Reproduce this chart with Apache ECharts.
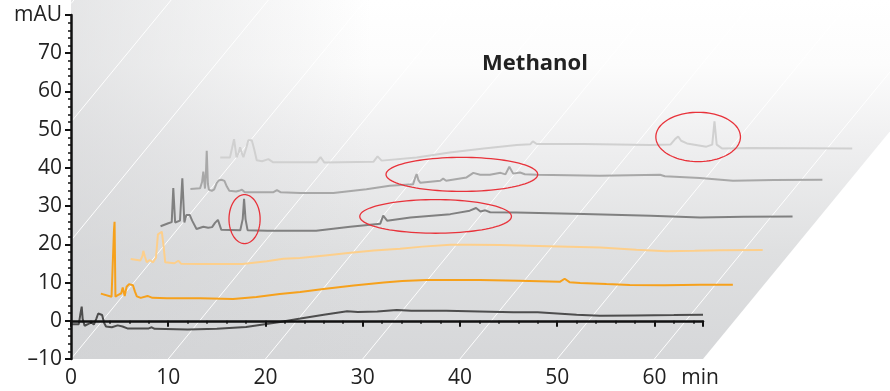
<!DOCTYPE html>
<html><head><meta charset="utf-8">
<script src="https://cdn.jsdelivr.net/npm/echarts/dist/echarts.min.js"></script>
<style>html,body{margin:0;padding:0;background:#fff}#c{width:890px;height:391px}</style>
</head><body><div id="c"></div>
<script>
// ---- data (retention time in min, absorbance in mAU, each run relative to its own origin) ----
const chartTitle = 'Methanol';
const xName = 'min';
const yName = 'mAU';
const xTickValues = [0, 10, 20, 30, 40, 50, 60];
const yTickValues = [-10, 0, 10, 20, 30, 40, 50, 60, 70];

const run1 = [[0,-0.9],[0.8,-0.9],[0.95,1.5],[1.1,3.7],[1.2,0.5],[1.4,-1.3],[1.8,-0.8],[2.1,-0.4],[2.35,-1.0],[2.6,0.5],[2.8,1.9],[3.0,2.0],[3.2,1.5],[3.4,-0.5],[3.6,-1.5],[4.2,-1.7],[4.8,-1.2],[5.0,-0.8],[5.3,-1.5],[5.8,-2.0],[8.0,-2.0],[8.3,-1.7],[8.6,-2.1],[12,-2.3],[15,-2.1],[18,-1.6],[21.5,-0.3],[23.6,0.6],[26,1.6],[28.4,2.5],[29.5,2.3],[31.5,2.4],[33.5,2.8],[35,2.6],[38.6,2.6],[42,2.4],[45.5,2.2],[48,2.2],[50,1.9],[52,1.6],[54.4,1.3],[58,1.4],[62,1.5],[65,1.6]];
const run2 = [[0,-1.6],[1.1,-2.4],[1.35,15],[1.41,17.2],[1.5,-2.4],[1.8,-1.9],[2.1,-1.5],[2.25,0],[2.45,-2.2],[2.65,0.2],[2.9,0.9],[3.1,0.7],[3.3,0.6],[3.5,-1.0],[3.7,-2.3],[4.1,-2.7],[4.8,-2.2],[5.0,-1.8],[5.3,-2.7],[6.8,-2.8],[10.2,-2.8],[13.6,-3.0],[16,-2.5],[18.4,-1.7],[20.5,-1.2],[22.9,-0.4],[26,0.5],[29.1,1.3],[31,1.7],[33.5,2.0],[36,2.0],[39,1.95],[43,1.8],[47.2,1.5],[47.7,2.3],[48.2,1.4],[49.3,1.2],[52,0.9],[54.4,0.65],[58,0.6],[61.6,0.7],[65,0.7]];
const run3 = [[0,-1.25],[1.0,-1.6],[1.2,-0.5],[1.3,0.9],[1.45,-0.5],[1.65,-2.1],[1.95,-1.5],[2.3,-2.1],[2.6,-0.9],[2.8,5.2],[3.0,5.0],[3.2,5.9],[3.38,2.2],[3.55,-2.1],[4.5,-2.35],[4.9,-1.7],[5.2,-2.5],[7.1,-2.56],[11.5,-2.56],[14,-1.8],[15.7,-1.2],[17.4,-1.0],[20,-0.3],[22.6,0.4],[25,1.0],[27.7,1.45],[30,2.0],[32.9,2.5],[35,2.5],[38,2.4],[43,2.1],[48.3,1.8],[52,1.2],[55.1,0.8],[58,0.9],[60.6,1.05],[65,1.1]];
const run4 = [[0,-1.36],[0.8,-0.6],[1.15,-0.3],[1.31,8.6],[1.5,-0.4],[2.0,0.1],[2.24,11.2],[2.45,-0.4],[2.65,1.6],[2.8,1.8],[3.0,1.6],[3.25,0.1],[3.7,-2.1],[4.4,-1.5],[4.9,-1.75],[5.3,-1.6],[5.6,-0.5],[5.9,0.3],[6.25,-2.3],[8.2,-2.4],[8.45,0.5],[8.59,5.8],[8.74,0.5],[8.95,-2.4],[11,-2.55],[16,-2.55],[19.5,-1.5],[22.6,-0.7],[22.9,1.4],[23.3,0.1],[25.7,0.9],[29.8,1.8],[31.8,2.7],[32.45,3.4],[32.9,2.5],[33.4,2.8],[33.9,2.3],[36.6,2.25],[43.5,1.85],[50.4,1.4],[55.5,0.95],[60,1.1],[65,1.2]];
const run5 = [[0,-0.3],[1.0,-0.1],[1.2,1.5],[1.33,4.2],[1.5,-0.2],[1.6,4],[1.68,9.7],[1.8,1],[1.9,-0.5],[2.2,-0.8],[2.45,-0.4],[2.7,1.2],[2.9,1.9],[3.2,2.1],[3.5,1.8],[3.75,0.3],[4.0,-0.8],[4.7,-1.0],[5.0,-0.8],[5.3,-0.5],[5.6,-1.2],[8.5,-1.2],[8.9,-0.6],[9.3,-1.2],[11.3,-1.4],[14.7,-1.4],[18.1,-0.4],[20.5,0.5],[22.9,0.9],[23.1,2.5],[23.27,3.6],[23.45,2],[23.65,1.3],[25.7,1.85],[26.0,2.4],[26.3,1.85],[28.4,2.7],[29.1,3.9],[29.8,3.4],[30.8,3.4],[31.9,3.9],[32.4,3.5],[32.8,5.5],[33.2,3.7],[33.9,4.0],[34.4,3.55],[35.6,3.4],[42.1,3.15],[48.3,3.4],[48.8,3.0],[52.4,2.55],[55.8,1.85],[60,2.0],[65,2.1]];
const run6 = [[0,-0.75],[1.0,-0.75],[1.2,1.5],[1.42,4.0],[1.68,-0.75],[1.9,0.5],[2.04,1.9],[2.2,0.5],[2.38,-0.7],[2.65,1.5],[2.89,3.7],[3.24,3.76],[3.48,1.5],[3.75,-1.5],[4.3,-1.75],[4.95,-1.2],[5.45,-2.05],[9.9,-2.05],[10.32,-0.7],[10.7,-2.1],[15.75,-1.9],[16.18,-0.5],[16.6,-1.6],[20.2,-0.8],[23.6,0.5],[27.1,1.6],[30.5,2.5],[31.9,2.7],[32.15,3.45],[32.55,2.75],[37.4,2.75],[44.2,2.5],[46.3,2.6],[46.8,4.1],[47.1,4.7],[47.4,3.6],[48,2.9],[50,2.05],[50.6,2.6],[50.83,8.7],[51.06,2.6],[51.6,1.6],[54.5,1.7],[60,1.65],[65,1.6]];

// highlighted regions: [centre time, centre mAU (as plotted), half-width min, half-height mAU]
const highlights = [[17.85, 26.6, 1.6, 6.4], [37.5, 27.3, 7.8, 4.4], [40.2, 38.3, 7.8, 4.45], [64.5, 48.1, 4.35, 6.45]];

// ---- layout / style ----
const runs = [run1, run2, run3, run4, run5, run6];
const runColors = ['#4d4d4d', '#f6a11c', '#fdcf8b', '#808080', '#a8a8a8', '#d0d0d0'];
const STEP_T = 3.07, STEP_V = 8.7;          // waterfall offset per run
const DEPTH_T = 19.26, DEPTH_V = 59.7;      // floor depth direction
const X_MIN = 0, X_MAX = 65, Y_MIN = -10, Y_MAX = 80, Y_BG_TOP = 84;
const FONT = '"Open Sans", "DejaVu Sans", sans-serif';
const W = 890, GL = 71, GR = 187, GT = 15, GB = 32;
const X2_MAX = X_MAX * (W - GL) / (W - GL - GR);   // hidden drawing axis, same scale, full width

const chart = echarts.init(document.getElementById('c'), null, {renderer: 'canvas'});

function bgRender(params, api) {
  const slope = DEPTH_V / DEPTH_T;
  const pts = [[X_MIN, Y_MIN], [X_MAX, Y_MIN], [X_MAX + (Y_BG_TOP - Y_MIN) / slope, Y_BG_TOP], [X_MIN, Y_BG_TOP]].map(p => api.coord(p));
  const children = [{
    type: 'polygon', shape: {points: pts},
    style: {fill: new echarts.graphic.LinearGradient(0, 1, 0, 0, [
      {offset: 0, color: '#d6d7d9'}, {offset: 0.3, color: '#dfe0e1'}, {offset: 0.6, color: '#efeff0'}, {offset: 0.82, color: '#fcfcfc'}, {offset: 1, color: '#ffffff'}])}
  }, {
    type: 'polygon', shape: {points: pts},
    style: {fill: new echarts.graphic.LinearGradient(pts[0][0], 0, pts[0][0] + 300, 0, [
      {offset: 0, color: 'rgba(208,209,211,0.55)'}, {offset: 1, color: 'rgba(208,209,211,0)'}], true)}
  }];
  for (let t0 = -40; t0 <= 60; t0 += 10) {
    let s = [t0, Y_MIN];
    if (t0 < X_MIN) s = [X_MIN, Y_MIN + (X_MIN - t0) * slope];
    if (s[1] >= Y_BG_TOP) continue;
    const e = [t0 + (Y_BG_TOP - Y_MIN) / slope, Y_BG_TOP];
    const a = api.coord(s), b = api.coord(e);
    children.push({type: 'line', shape: {x1: a[0], y1: a[1], x2: b[0], y2: b[1]}, style: {stroke: 'rgba(255,255,255,0.95)', lineWidth: 1}});
  }
  return {type: 'group', children};
}

function ellipseRender(params, api) {
  const c = api.coord([api.value(0), api.value(1)]);
  const sz = api.size([api.value(2), api.value(3)]);
  const pts = [];
  for (let i = 0; i < 96; i++) {
    const a = i / 96 * Math.PI * 2;
    pts.push([c[0] + sz[0] * Math.cos(a), c[1] + sz[1] * Math.sin(a)]);
  }
  return {type: 'polygon', shape: {points: pts}, style: {fill: 'none', stroke: '#e8323a', lineWidth: 1.3}};
}

const series = [{type: 'custom', xAxisIndex: 1, yAxisIndex: 1, renderItem: bgRender, data: [[0]], silent: true, z: 0, clip: false}];
runs.forEach((r, k) => {
  series.push({
    type: 'line', xAxisIndex: 1, yAxisIndex: 1, data: r.map(p => [p[0] + k * STEP_T, p[1] + k * STEP_V]),
    symbol: 'none', showSymbol: false, clip: false, silent: true, z: 5,
    lineStyle: {color: runColors[k], width: 2}
  });
});
series.push({type: 'custom', xAxisIndex: 1, yAxisIndex: 1, renderItem: ellipseRender, data: highlights, silent: true, z: 8, clip: false});

const axisLineStyle = {color: '#111', width: 2.5};
chart.setOption({
  animation: false,
  backgroundColor: '#fff',
  title: {text: chartTitle, left: 530, top: 48, textAlign: 'center',
    textStyle: {fontFamily: FONT, fontSize: 22, fontWeight: 'bold', color: '#222'}},
  grid: [
    {left: GL, right: GR, top: GT, bottom: GB, containLabel: false, z: 10},
    {left: GL, right: 0, top: GT, bottom: GB, containLabel: false}
  ],
  xAxis: [{
    gridIndex: 0, type: 'value', min: X_MIN, max: X_MAX, interval: 10, z: 10,
    axisLine: {lineStyle: axisLineStyle},
    axisTick: {show: true, length: 6, lineStyle: {color: '#111', width: 2}},
    minorTick: {show: true, splitNumber: 5, length: 3, lineStyle: {color: '#111', width: 1.5}},
    splitLine: {show: false},
    axisLabel: {fontFamily: FONT, fontSize: 21, color: '#222', margin: 9,
      formatter: v => xTickValues.includes(v) ? String(v) : (v === X_MAX ? '{m|' + xName + '}' : ''),
      rich: {m: {fontFamily: FONT, fontSize: 21, color: '#222', padding: [0, 6, 0, 0]}}}
  }, {
    gridIndex: 1, type: 'value', min: X_MIN, max: X2_MAX, show: false
  }],
  yAxis: [{
    gridIndex: 0, type: 'value', min: Y_MIN, max: Y_MAX, interval: 10, z: 10,
    axisLine: {show: true, lineStyle: axisLineStyle},
    axisTick: {show: true, length: 6, lineStyle: {color: '#111', width: 2}},
    minorTick: {show: true, splitNumber: 5, length: 3, lineStyle: {color: '#111', width: 1.5}},
    splitLine: {show: false},
    axisLabel: {fontFamily: FONT, fontSize: 21, color: '#222', margin: 9,
      formatter: v => yTickValues.includes(v) ? String(v).replace('-', '\u2013') : (v === Y_MAX ? yName : '')}
  }, {
    gridIndex: 1, type: 'value', min: Y_MIN, max: Y_MAX, show: false
  }],
  series
});
</script></body></html>
